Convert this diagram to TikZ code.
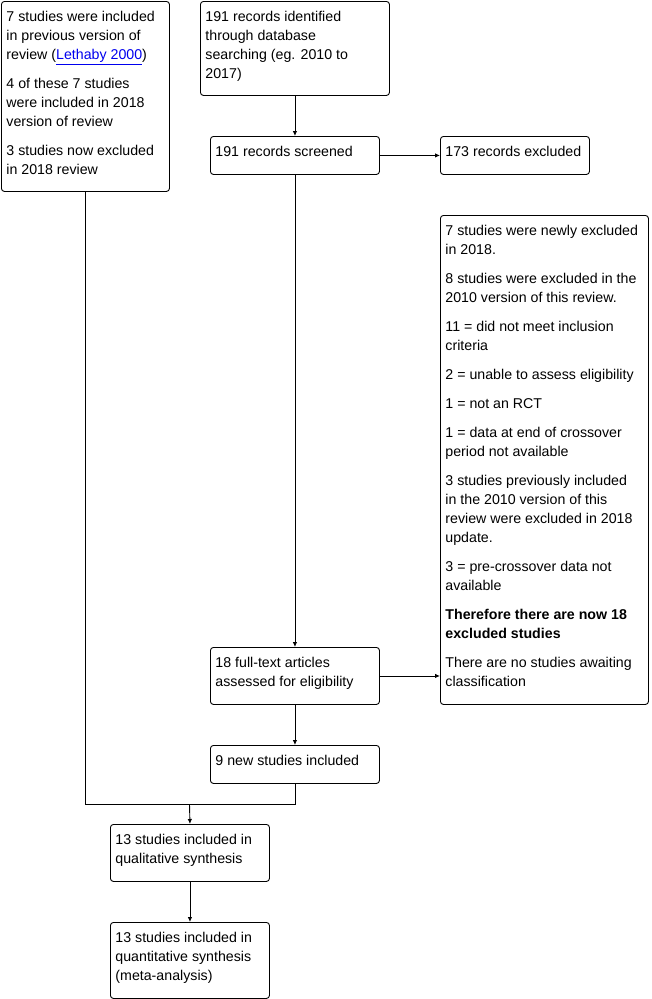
\documentclass[tikz,border=0pt]{standalone}
\usepackage{fontspec}
\setmainfont{Liberation Sans}
\usetikzlibrary{arrows.meta}
\definecolor{linkblue}{RGB}{0,0,238}
\newcommand\bt[3]{\parbox[t][#2pt][t]{#1pt}{\raggedright\vspace*{6.8pt}\strut\setlength{\parskip}{10pt}#3}}
\newcommand\lnk[1]{\textcolor{linkblue}{\underline{#1}}}
\begin{document}
\begin{tikzpicture}[x=1pt,y=-1pt,
  box/.style={draw, rounded corners=3pt, line width=0.9pt, inner xsep=5pt, inner ysep=0pt,
    anchor=north west, font=\fontsize{14.2}{19}\selectfont},
  arr/.style={line width=0.9pt, -{Latex[length=5pt,width=4.5pt]}},
  ln/.style={line width=0.9pt}]
\useasboundingbox (0,0) rectangle (651,999);
\node[box] (A) at (1,1) {\bt{158}{190}{7 studies were included\\ in previous version of\\ review (\lnk{Lethaby 2000})\par 4 of these 7 studies\\ were included in 2018\\ version of review\par 3 studies now excluded\\ in 2018 review}};
\node[box] (B) at (200,1) {\bt{179}{94}{191 records identified\\ through database\\ searching (eg. 2010 to\\ 2017)}};
\node[box] (C) at (210,136) {\bt{159}{38}{191 records screened}};
\node[box] (D) at (440,136) {\bt{139}{38}{173 records excluded}};
\node[box] (E) at (440,215) {\bt{198}{489}{7 studies were newly excluded\\ in 2018.\par 8 studies were excluded in the\\ 2010 version of this review.\par 11 = did not meet inclusion\\ criteria\par 2 = unable to assess eligibility\par 1 = not an RCT\par 1 = data at end of crossover\\ period not available\par 3 studies previously included\\ in the 2010 version of this\\ review were excluded in 2018\\ update.\par 3 = pre-crossover data not\\ available\par \textbf{Therefore there are now 18\\ excluded studies}\par There are no studies awaiting\\ classification}};
\node[box] (F) at (210,647) {\bt{159}{57}{18 full-text articles\\ assessed for eligibility}};
\node[box] (G) at (210,745) {\bt{159}{38}{9 new studies included}};
\node[box] (H) at (110,824) {\bt{149}{57}{13 studies included in\\ qualitative synthesis}};
\node[box] (I) at (110,922) {\bt{149}{76}{13 studies included in\\ quantitative synthesis\\ (meta-analysis)}};
\coordinate (j) at (189.5,804);
\draw[arr] (B.south) -- (C.north);
\draw[arr] (C.east) -- (D.west);
\draw[arr] (C.south) -- (F.north);
\draw[arr] (F.east) -- (F.east -| E.west);
\draw[arr] (F.south) -- (G.north);
\draw[ln] (A.south) |- (j -| G.south) -- (G.south);
\draw[arr] (j) -- (H.north);
\draw[arr] (H.south) -- (I.north);
\end{tikzpicture}
\end{document}
